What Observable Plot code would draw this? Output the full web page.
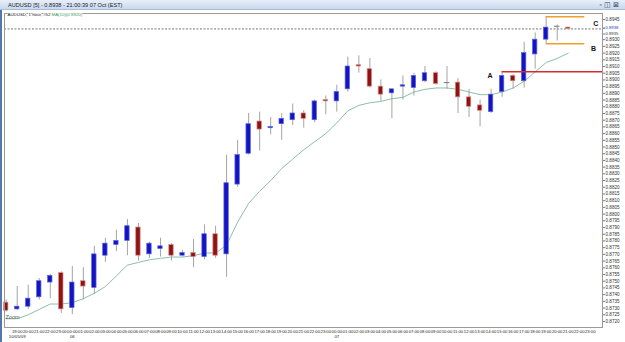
<!DOCTYPE html>
<html><head><meta charset="utf-8">
<script src="https://cdn.jsdelivr.net/npm/d3@7"></script>
<script src="https://cdn.jsdelivr.net/npm/@observablehq/plot@0.6"></script>
<style>
html,body{margin:0;padding:0;background:#fff;}
#win{position:relative;width:625px;height:342px;overflow:hidden;font-family:"Liberation Sans",Arial,sans-serif;background:#fff;}
#bar{height:10px;background:linear-gradient(#e8eff9,#c8d8ee);border-bottom:1px solid #a9bcd8;box-sizing:border-box;position:relative;font-size:5.6px;line-height:10px;color:#222;padding-left:8px;white-space:nowrap;}
#btns{position:absolute;right:4px;top:0;font-size:7px;line-height:10px;color:#345;letter-spacing:2px;}
#edge{position:absolute;left:0;top:10px;width:2px;height:332px;background:#5577aa;}
#chart svg{display:block}
</style></head><body>
<div id="win"><div id="bar">AUDUSD [5] - 0.8938 - 21:00:39 07 Oct (EST)<span id="btns">▫◫⊠</span></div><div id="chart"></div><div id="edge"></div></div>
<script>
// Hourly AUDUSD candles, 18:00 05 Oct to 21:00 07 Oct
const opens  = [0.8734,0.8729,0.8731,0.8738,0.8749,0.8756,0.8730,0.8750,0.8745,0.8769,0.8777,0.8780,0.8790,0.8770,0.8774,0.8777,0.8769,0.8771,0.8768,0.8785,0.8770,0.8822,0.8845,0.8869,0.8864,0.8867,0.8870,0.8875,0.8870,0.8885,0.8884,0.8893,0.8911,0.8908,0.8895,0.8890,0.8895,0.8894,0.8899,0.8905,0.8898,0.8898,0.8887,0.8881,0.8876,0.8891,0.8903,0.8899,0.8919,0.8930,0.8940,0.8939];
const highs  = [0.8736,0.8746,0.8747,0.8752,0.8755,0.8757,0.8761,0.8760,0.8776,0.8782,0.8788,0.8796,0.8793,0.8779,0.8782,0.8778,0.8773,0.8781,0.8792,0.8791,0.8844,0.8855,0.8875,0.8876,0.8872,0.8875,0.8882,0.8877,0.8885,0.8888,0.8896,0.8917,0.8918,0.8916,0.8900,0.8893,0.8903,0.8905,0.8910,0.8906,0.8910,0.8901,0.8893,0.8885,0.8893,0.8906,0.8904,0.8928,0.8935,0.8947,0.8941,0.8939];
const lows   = [0.8727,0.8728,0.8729,0.8736,0.8737,0.8726,0.8725,0.8736,0.8740,0.8764,0.8772,0.8769,0.8765,0.8767,0.8768,0.8765,0.8768,0.8760,0.8766,0.8767,0.8753,0.8820,0.8844,0.8847,0.8859,0.8855,0.8866,0.8864,0.8868,0.8874,0.8876,0.8891,0.8905,0.8894,0.8884,0.8871,0.8885,0.8888,0.8898,0.8896,0.8893,0.8875,0.8872,0.8865,0.8875,0.8887,0.8893,0.8894,0.8908,0.8927,0.8929,0.8938];
const closes = [0.8728,0.8731,0.8737,0.8750,0.8754,0.8729,0.8749,0.8746,0.8770,0.8778,0.8780,0.8791,0.8769,0.8778,0.8776,0.8769,0.8771,0.8768,0.8785,0.8769,0.8823,0.8844,0.8867,0.8863,0.8865,0.8871,0.8875,0.8871,0.8884,0.8884,0.8891,0.8910,0.8910,0.8895,0.8889,0.8893,0.8896,0.8903,0.8905,0.8897,0.8898,0.8887,0.8880,0.8877,0.8889,0.8903,0.8899,0.8920,0.8930,0.8939,0.8940,0.8938];
const maValues = [0.8722,0.8722,0.8725,0.8729,0.8733,0.8733,0.8734,0.8737,0.8741,0.8746,0.8754,0.8762,0.8764,0.8766,0.8767,0.8768,0.8768,0.8769,0.8771,0.8771,0.8777,0.8794,0.8808,0.8817,0.8825,0.8834,0.8841,0.8848,0.8854,0.8860,0.8868,0.8877,0.8881,0.8883,0.8884,0.8886,0.8887,0.8891,0.8893,0.8894,0.8894,0.8893,0.8891,0.8889,0.8889,0.8891,0.8894,0.8899,0.8906,0.8913,0.8916,0.8920];

const day05Hours = ["18:00","19:00","20:00","21:00","22:00","23:00"];
const dayHours = ["00:00","01:00","02:00","03:00","04:00","05:00","06:00","07:00","08:00","09:00","10:00","11:00","12:00","13:00","14:00","15:00","16:00","17:00","18:00","19:00","20:00","21:00","22:00","23:00"];
const hourLabels = [...day05Hours, ...dayHours, ...dayHours];
const dateLabels = [{i:1, t:"10/05/09"}, {i:6, t:"06"}, {i:30, t:"07"}];
const priceTicks = [0.8720,0.8725,0.8730,0.8735,0.8740,0.8745,0.8750,0.8755,0.8760,0.8765,0.8770,0.8775,0.8780,0.8785,0.8790,0.8795,0.8800,0.8805,0.8810,0.8815,0.8820,0.8825,0.8830,0.8835,0.8840,0.8845,0.8850,0.8855,0.8860,0.8865,0.8870,0.8875,0.8880,0.8885,0.8890,0.8895,0.8900,0.8905,0.8910,0.8915,0.8920,0.8925,0.8930,0.8945];
const nearCurrentTick = [0.8935];
const currentPrice = 0.8938;
const levelA = [{from:45, price:0.8906}];
const boxLevels = [{from:49, to:52.5, price:0.8947}, {from:49, to:52.5, price:0.8927}];
const markers = [{i:43.9, price:0.89033, t:"A"}, {i:53.3, price:0.89236, t:"B"}, {i:53.5, price:0.89422, t:"C"}];

const candles = opens.map((o, i) => ({i, open:o, high:highs[i], low:lows[i], close:closes[i], ma:maValues[i],
  dir: closes[i] > o ? "up" : closes[i] < o ? "down" : "flat"}));
const hourTicks = hourLabels.map((label, i) => ({i, label})).filter(d => d.i >= 1);
const xDomain = [-0.154, 54.11];
const fmt = d => d.toFixed(4);

const chart = Plot.plot({
  width: 625, height: 332,
  marginLeft: 4, marginRight: 23, marginTop: 3, marginBottom: 15,
  style: {fontFamily: "'Liberation Sans', Arial, sans-serif", background: "#fff", overflow: "visible"},
  x: {domain: xDomain, axis: null},
  y: {domain: [0.87155, 0.89495], axis: null},
  marks: [
    Plot.ruleY([currentPrice], {stroke: "#555", strokeWidth: 0.8, strokeDasharray: "2,1.5"}),
    Plot.line(candles, {x: "i", y: "ma", stroke: "#8cbfa6", strokeWidth: 1}),
    Plot.ruleX(candles, {x: "i", y1: "low", y2: "high", stroke: "#a4a4a4", strokeWidth: 1}),
    Plot.rect(candles.filter(d => d.dir !== "flat"), {
      x1: d => d.i - 0.2, x2: d => d.i + 0.2, y1: "open", y2: "close",
      fill: d => d.dir === "up" ? "#1414c4" : "#8e1414",
      stroke: d => d.dir === "up" ? "#5a68dc" : "#d98a8a", strokeWidth: 0.7
    }),
    Plot.ruleY(candles.filter(d => d.dir === "flat"), {y: "close", x1: d => d.i - 0.25, x2: d => d.i + 0.25, stroke: "#777", strokeWidth: 1}),
    Plot.ruleY(levelA, {y: "price", x1: "from", x2: () => xDomain[1], stroke: "#d22c2c", strokeWidth: 1.5}),
    Plot.ruleY(boxLevels, {y: "price", x1: "from", x2: "to", stroke: "#f0a02a", strokeWidth: 1.5}),
    Plot.text(markers, {x: "i", y: "price", text: "t", fontSize: 7, fontWeight: "bold", fill: "#111"}),
    Plot.frame({stroke: "#9a9a9a"}),
    Plot.axisY(priceTicks, {anchor: "right", tickSize: 2, tickPadding: 1, fontSize: 4.6, tickFormat: fmt, stroke: "#777", fill: "#333"}),
    Plot.axisY(nearCurrentTick, {anchor: "right", tickSize: 2, tickPadding: 1, fontSize: 4.2, dy: 1, tickFormat: fmt, stroke: "#777", fill: "#333"}),
    Plot.axisY([currentPrice], {anchor: "right", tickSize: 2, tickPadding: 1, fontSize: 4.2, dy: -0.8, tickFormat: fmt, stroke: "#3344cc", fill: "#2233cc"}),
    Plot.text(hourTicks, {x: "i", text: "label", frameAnchor: "bottom", dy: 5, fontSize: 4.2, fill: "#222"}),
    Plot.text(dateLabels, {x: "i", text: "t", frameAnchor: "bottom", dy: 10.5, fontSize: 4.3, fill: "#222"}),
    Plot.text(["AUDUSD, 1 hour, #52"], {frameAnchor: "top-left", dx: 3, dy: -0.5, fontSize: 4.4, fill: "#222", stroke: "#fff", strokeWidth: 1.5, textAnchor: "start"}),
    Plot.text(["MA(10)(0.8920)"], {frameAnchor: "top-left", dx: 47, dy: -0.5, fontSize: 4.4, fill: "#3a9a5a", stroke: "#fff", strokeWidth: 1.5, textAnchor: "start"}),
    Plot.text(["Zoom"], {frameAnchor: "bottom-left", dx: 1, dy: -8.5, fontSize: 5.5, fill: "#555", textAnchor: "start"})
  ]
});
document.getElementById("chart").appendChild(chart);
</script>
</body></html>
